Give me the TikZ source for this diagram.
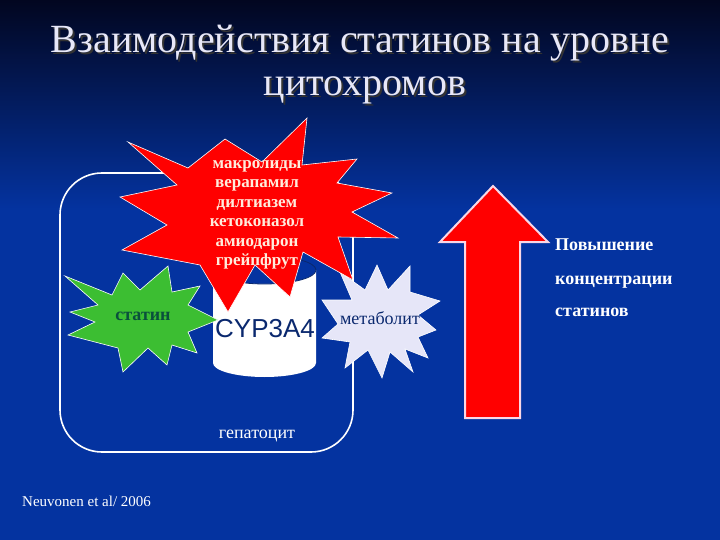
\documentclass[tikz,border=0pt]{standalone}
\usepackage{fontspec}
\setmainfont{Liberation Serif}
\newfontfamily\cypfont{Liberation Sans}
\definecolor{bgtop}{RGB}{2,6,32}
\definecolor{bgblue}{RGB}{4,51,160}
\definecolor{burstred}{RGB}{255,0,0}
\definecolor{burstgreen}{RGB}{60,190,50}
\definecolor{burstlav}{RGB}{230,230,248}
\definecolor{titlewhite}{RGB}{232,232,248}
\definecolor{creamtext}{RGB}{255,236,220}
\definecolor{navytext}{RGB}{10,40,110}
\definecolor{greentext}{RGB}{10,80,60}
\definecolor{arrowrim}{RGB}{250,215,230}

\begin{document}
\begin{tikzpicture}[x=1pt, y=-1pt,
	burst/.style={draw=white, line width=0.6pt, line join=miter},
	slidetext/.style={inner sep=0pt, font=\fontsize{18}{21}\selectfont},
	titletext/.style={inner sep=0pt, anchor=base, font=\fontsize{40}{46}\selectfont}]
	% Background:
	\useasboundingbox (0,0) rectangle (720,540);
	\fill[bgblue] (0,0) rectangle (720,540);
	\shade[top color=bgtop, bottom color=bgblue] (0,0) rectangle (720,210);
	% Title (with shadow):
	\node[titletext, text=black!80] (title1s) at (362,55) {Взаимодействия статинов на уровне};
	\node[titletext, text=titlewhite] (title1) at (360,53) {Взаимодействия статинов на уровне};
	\node[titletext, text=black!80] (title2s) at (367,98) {цитохромов};
	\node[titletext, text=titlewhite] (title2) at (365,96) {цитохромов};
	% Hepatocyte:
	\draw[white, line width=1.6pt, rounded corners=42pt] (60,173) rectangle (353,452);
	\node[slidetext, anchor=base, text=white] (hepat) at (257,438) {гепатоцит};
	% CYP3A4 cylinder:
	\fill[white] (213,270) -- (213,363) arc[start angle=180, end angle=0, x radius=51.5, y radius=14]
		-- (316,270) arc[start angle=0, end angle=180, x radius=51.5, y radius=14] -- cycle;
	\draw[navytext, line width=0.8pt] (264.5,270) ellipse[x radius=51.5, y radius=14];
	% Statin:
	\filldraw[burst, fill=burstgreen] (65,276) -- (112,295) -- (123,273) -- (140,290) -- (168,266)
		-- (172,292) -- (200,286) -- (188,305) -- (218,320) -- (188,332) -- (197,353) -- (172,345)
		-- (167,365) -- (148,348) -- (123,372) -- (118,348) -- (68,335) -- (95,322) -- (70,312)
		-- (98,305) -- cycle;
	\node[slidetext, anchor=base, text=greentext, font=\fontsize{18}{21}\selectfont\bfseries] (statin) at (143,320) {статин};
	% Metabolite:
	\filldraw[burst, fill=burstlav] (377,265) -- (388,290) -- (410,266) -- (410,292) -- (440,301)
		-- (418,315) -- (436,330) -- (418,337) -- (428,358) -- (405,349) -- (413,372) -- (390,352)
		-- (382,378) -- (368,350) -- (345,368) -- (350,342) -- (322,338) -- (338,324) -- (322,300)
		-- (352,300) -- (340,272) -- (365,290) -- cycle;
	\node[slidetext, anchor=base, text=navytext] (metab) at (380,324) {метаболит};
	% Inhibitors:
	\filldraw[burst, fill=burstred] (307,118) -- (302,165) -- (357,159) -- (337,183) -- (392,193)
		-- (352,212) -- (398,238) -- (338,237) -- (353,280) -- (303,252) -- (290,297) -- (255,265)
		-- (228,312) -- (200,265) -- (122,250) -- (167,225) -- (120,197) -- (177,185) -- (128,142)
		-- (188,168) -- (225,139) -- (262,162) -- cycle;
	\node[slidetext, align=center, text=creamtext, font=\fontsize{17}{19.5}\selectfont\bfseries] (inhib) at (257,215)
		{макролиды\\верапамил\\дилтиазем\\кетоконазол\\амиодарон\\грейпфрут};
	\node[slidetext, anchor=base, text=navytext, font=\fontsize{26}{30}\cypfont] (cyp) at (265,337) {CYP3A4};
	% Increase arrow:
	\filldraw[draw=arrowrim, line width=2pt, fill=burstred, line join=miter] (465,418) -- (465,242) -- (440,242)
		-- (493,186) -- (548,242) -- (520,242) -- (520,418) -- cycle;
	\node[slidetext, anchor=base west, text=white, font=\fontsize{18}{21}\selectfont\bfseries] (rise1) at (555,251) {Повышение};
	\node[slidetext, anchor=base west, text=white, font=\fontsize{18}{21}\selectfont\bfseries] (rise2) at (555,284) {концентрации};
	\node[slidetext, anchor=base west, text=white, font=\fontsize{18}{21}\selectfont\bfseries] (rise3) at (555,316) {статинов};
	% Reference:
	\node[slidetext, anchor=base west, text=white, font=\fontsize{15}{18}\selectfont] (ref) at (22,506) {Neuvonen et al/ 2006};
\end{tikzpicture}
\end{document}
